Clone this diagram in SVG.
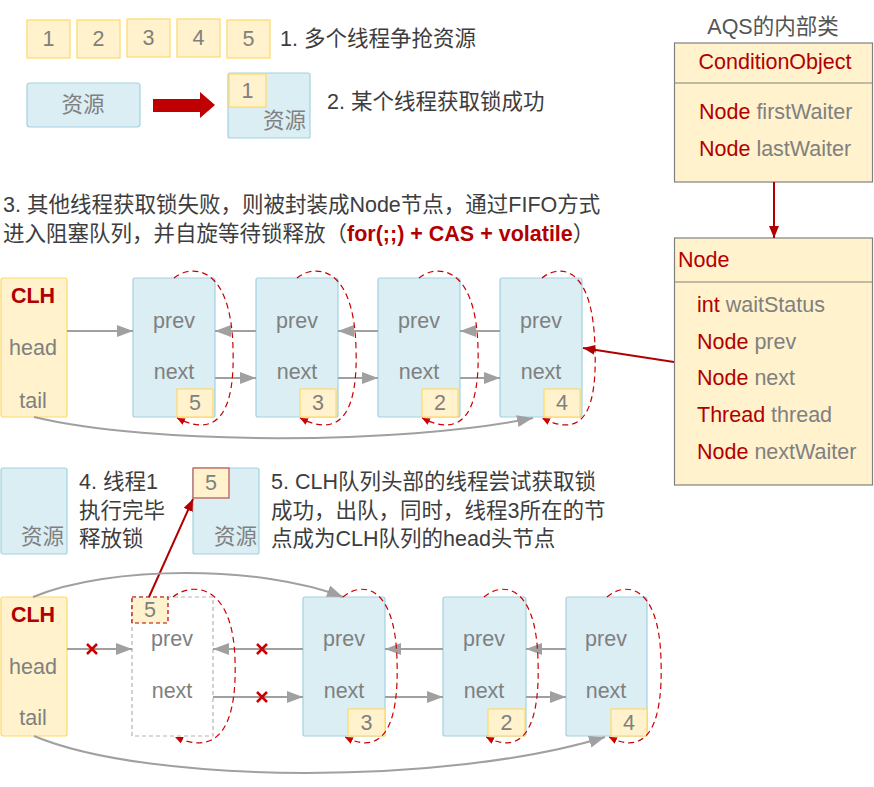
<svg xmlns="http://www.w3.org/2000/svg" width="874" height="787" viewBox="0 0 874 787">
<defs>
<style>
text{font-family:'Liberation Sans','Noto Sans CJK SC',sans-serif;font-size:21.5px;dominant-baseline:central}
.p{fill:#3d3d3d}
.g{fill:#808080}
.r{fill:#B20000}
.b{font-weight:bold}
.m{text-anchor:middle}
.e{text-anchor:end}
.y{fill:#FFF2CC;stroke:#FFD966;stroke-width:1.2}
.n{fill:#DAEEF4;stroke:#A3D2DF;stroke-width:1.2}
.aqs{fill:#FFF2CC;stroke:#808080;stroke-width:1.2}
.gl{fill:none;stroke:#A0A0A0;stroke-width:2}
.rl{fill:none;stroke:#B20000;stroke-width:2}
.lp{fill:none;stroke:#CC0000;stroke-width:1.2;stroke-dasharray:6 4}
.x{stroke:#CC0000;stroke-width:2.5;fill:none}
</style>
<marker id="ag" markerUnits="userSpaceOnUse" markerWidth="18" markerHeight="14" refX="16" refY="6" orient="auto"><path d="M0,0 L16,6 L0,12 z" fill="#A0A0A0"/></marker>
<marker id="ar" markerUnits="userSpaceOnUse" markerWidth="14" markerHeight="12" refX="12" refY="5" orient="auto"><path d="M0,0 L12,5 L0,10 z" fill="#B20000"/></marker>
<marker id="al" markerUnits="userSpaceOnUse" markerWidth="10" markerHeight="9" refX="8" refY="3.5" orient="auto"><path d="M0,0 L8,3.5 L0,7 z" fill="#CC0000"/></marker>
</defs>
<rect width="874" height="787" fill="#fff"/>

<!-- step 1 -->
<g id="t1">
<rect class="y" x="27" y="20" width="43" height="38"/><text class="g m" x="48.5" y="39">1</text>
<rect class="y" x="77" y="20" width="43" height="38"/><text class="g m" x="98.5" y="39">2</text>
<rect class="y" x="127" y="19" width="43" height="38"/><text class="g m" x="148.5" y="38">3</text>
<rect class="y" x="177" y="19" width="43" height="38"/><text class="g m" x="198.5" y="38">4</text>
<rect class="y" x="227" y="20" width="43" height="38"/><text class="g m" x="248.5" y="39">5</text>
<text class="p" x="280" y="39">1. 多个线程争抢资源</text>
</g>

<!-- step 2 -->
<g id="res1">
<rect class="n" x="27" y="83" width="113" height="44" rx="3"/>
<text class="g m" x="83" y="105">资源</text>
</g>
<polygon points="153,99 200,99 200,92 215,105 200,118 200,112 153,112" fill="#C00000"/>
<g id="res2">
<rect class="n" x="228" y="73" width="82" height="65" rx="2"/>
<rect class="y" x="229" y="74" width="37" height="33"/>
<text class="g m" x="247.5" y="90.5">1</text>
<text class="g e" x="306" y="121">资源</text>
</g>
<text class="p" x="327" y="102">2. 某个线程获取锁成功</text>

<!-- AQS -->
<text class="p m" x="773" y="27" style="fill:#555">AQS的内部类</text>
<g id="cond">
<rect class="aqs" x="674.5" y="43" width="198" height="139"/>
<line x1="674.5" y1="83" x2="872.5" y2="83" stroke="#808080" stroke-width="1.2"/>
<text class="r m" x="775" y="62">ConditionObject</text>
<text x="699" y="112"><tspan class="r">Node</tspan><tspan class="g"> firstWaiter</tspan></text>
<text x="699" y="149"><tspan class="r">Node</tspan><tspan class="g"> lastWaiter</tspan></text>
</g>
<g id="nodecls">
<rect class="aqs" x="674.5" y="238" width="198" height="247"/>
<line x1="674.5" y1="282" x2="872.5" y2="282" stroke="#808080" stroke-width="1.2"/>
<text class="r" x="678" y="260">Node</text>
<text x="697" y="305"><tspan class="r">int</tspan><tspan class="g"> waitStatus</tspan></text>
<text x="697" y="342"><tspan class="r">Node</tspan><tspan class="g"> prev</tspan></text>
<text x="697" y="378"><tspan class="r">Node</tspan><tspan class="g"> next</tspan></text>
<text x="697" y="415"><tspan class="r">Thread</tspan><tspan class="g"> thread</tspan></text>
<text x="697" y="452"><tspan class="r">Node</tspan><tspan class="g"> nextWaiter</tspan></text>
</g>

<!-- step 3 text -->
<text class="p" x="3" y="205">3. 其他线程获取锁失败，则被封装成Node节点，通过FIFO方式</text>
<text class="p" x="3" y="234">进入阻塞队列，并自旋等待锁释放（<tspan class="r b">for(;;) + CAS + volatile</tspan>）</text>

<!-- row 1 -->
<g id="clh1">
<rect class="y" x="1" y="278" width="66" height="139" rx="2"/>
<text class="r b m" x="33" y="296">CLH</text>
<text class="g m" x="33" y="348">head</text>
<text class="g m" x="33" y="401">tail</text>
</g>
<g id="r1n5">
<rect class="n" x="133" y="278" width="82" height="139" rx="2"/>
<text class="g m" x="174" y="321">prev</text><text class="g m" x="174" y="372">next</text>
<rect class="y" x="177" y="389" width="36" height="28"/><text class="g m" x="195" y="403">5</text>
</g>
<g id="r1n3">
<rect class="n" x="256" y="278" width="82" height="139" rx="2"/>
<text class="g m" x="297" y="321">prev</text><text class="g m" x="297" y="372">next</text>
<rect class="y" x="300" y="389" width="36" height="28"/><text class="g m" x="318" y="403">3</text>
</g>
<g id="r1n2">
<rect class="n" x="378" y="278" width="82" height="139" rx="2"/>
<text class="g m" x="419" y="321">prev</text><text class="g m" x="419" y="372">next</text>
<rect class="y" x="422" y="389" width="36" height="28"/><text class="g m" x="440" y="403">2</text>
</g>
<g id="r1n4">
<rect class="n" x="500" y="278" width="82" height="139" rx="2"/>
<text class="g m" x="541" y="321">prev</text><text class="g m" x="541" y="372">next</text>
<rect class="y" x="544" y="389" width="36" height="28"/><text class="g m" x="562" y="403">4</text>
</g>

<!-- step 4 / 5 -->
<g id="res4">
<rect class="n" x="1" y="468" width="66" height="86" rx="2"/>
<text class="g e" x="64" y="537">资源</text>
</g>
<text class="p" x="79" y="482">4. 线程1</text>
<text class="p" x="79" y="511">执行完毕</text>
<text class="p" x="79" y="539">释放锁</text>
<g id="res5">
<rect class="n" x="193" y="468" width="66" height="86" rx="2"/>
<rect x="193" y="468" width="36" height="30" fill="#FFF2CC" stroke="#B85450" stroke-width="1.2"/>
<text class="g m" x="211" y="483">5</text>
<text class="g e" x="257" y="537">资源</text>
</g>
<text class="p" x="271" y="482">5. CLH队列头部的线程尝试获取锁</text>
<text class="p" x="271" y="511">成功，出队，同时，线程3所在的节</text>
<text class="p" x="271" y="539">点成为CLH队列的head头节点</text>

<!-- row 2 -->
<g id="clh2">
<rect class="y" x="1" y="597" width="66" height="139" rx="2"/>
<text class="r b m" x="33" y="615">CLH</text>
<text class="g m" x="33" y="667">head</text>
<text class="g m" x="33" y="718">tail</text>
</g>
<g id="r2n5">
<rect x="132" y="597" width="81" height="139" fill="#fff" stroke="#B3B3B3" stroke-width="1.2" stroke-dasharray="4 3"/>
<rect x="132" y="597" width="36" height="26" fill="#FFF2CC" stroke="#B20000" stroke-width="1.2" stroke-dasharray="4 3"/>
<text class="g m" x="150" y="610">5</text>
<text class="g m" x="172" y="639">prev</text><text class="g m" x="172" y="691">next</text>
</g>
<g id="r2n3">
<rect class="n" x="303" y="597" width="82" height="139" rx="2"/>
<text class="g m" x="344" y="639">prev</text><text class="g m" x="344" y="691">next</text>
<rect class="y" x="348" y="709" width="37" height="27"/><text class="g m" x="366.5" y="722.5">3</text>
</g>
<g id="r2n2">
<rect class="n" x="443" y="597" width="83" height="139" rx="2"/>
<text class="g m" x="484" y="639">prev</text><text class="g m" x="484" y="691">next</text>
<rect class="y" x="488" y="709" width="37" height="27"/><text class="g m" x="506.5" y="722.5">2</text>
</g>
<g id="r2n4">
<rect class="n" x="566" y="597" width="81" height="139" rx="2"/>
<text class="g m" x="606" y="639">prev</text><text class="g m" x="606" y="691">next</text>
<rect class="y" x="611" y="709" width="36" height="27"/><text class="g m" x="629" y="722.5">4</text>
</g>

<!-- connectors -->
<g id="connectors">
<!-- row 1 -->
<path class="gl" d="M67,331 L133,331" marker-end="url(#ag)"/>
<path class="gl" d="M256,331 L215,331" marker-end="url(#ag)"/>
<path class="gl" d="M215,378 L256,378" marker-end="url(#ag)"/>
<path class="gl" d="M378,331 L338,331" marker-end="url(#ag)"/>
<path class="gl" d="M338,378 L378,378" marker-end="url(#ag)"/>
<path class="gl" d="M500,331 L460,331" marker-end="url(#ag)"/>
<path class="gl" d="M460,378 L500,378" marker-end="url(#ag)"/>
<path class="gl" d="M34,417 C150,445 400,445 533,418" marker-end="url(#ag)"/>
<!-- loops row 1 -->
<path class="lp" d="M174,278 C191,264 231,264 233,348 C235,408 220,440 177,418" marker-end="url(#al)"/>
<path class="lp" d="M297,278 C314,264 354,264 356,348 C358,408 343,440 300,418" marker-end="url(#al)"/>
<path class="lp" d="M419,278 C436,264 476,264 478,348 C480,408 465,440 422,418" marker-end="url(#al)"/>
<path class="lp" d="M542,278 C559,264 593,264 595,348 C597,408 585,440 542,418" marker-end="url(#al)"/>
<!-- red -->
<path class="rl" d="M774,182 L774,238" marker-end="url(#ar)"/>
<path class="rl" d="M674,362 L583,348" marker-end="url(#ar)"/>
<path class="rl" d="M149,597 L193,499" marker-end="url(#ar)"/>
<!-- row 2 -->
<path class="gl" d="M67,649 L132,649" marker-end="url(#ag)"/>
<path class="gl" d="M303,649 L213,649" marker-end="url(#ag)"/>
<path class="gl" d="M213,697 L303,697" marker-end="url(#ag)"/>
<path class="gl" d="M443,649 L385,649" marker-end="url(#ag)"/>
<path class="gl" d="M385,697 L443,697" marker-end="url(#ag)"/>
<path class="gl" d="M566,649 L526,649" marker-end="url(#ag)"/>
<path class="gl" d="M526,697 L566,697" marker-end="url(#ag)"/>
<path class="gl" d="M33,597 C110,565 260,565 343,597" marker-end="url(#ag)"/>
<path class="gl" d="M34,736 C150,785 450,785 605,737" marker-end="url(#ag)"/>
<!-- crosses -->
<path class="x" d="M87,644 L97,654 M97,644 L87,654"/>
<path class="x" d="M257,644 L267,654 M267,644 L257,654"/>
<path class="x" d="M257,692 L267,702 M267,692 L257,702"/>
<!-- loops row 2 -->
<path class="lp" d="M173,597 C191,582 233,582 235,660 C237,720 222,758 175,737" marker-end="url(#al)"/>
<path class="lp" d="M343,597 C360,582 395,582 397,660 C399,720 386,758 345,737" marker-end="url(#al)"/>
<path class="lp" d="M484,597 C501,582 536,582 538,660 C540,720 527,758 486,737" marker-end="url(#al)"/>
<path class="lp" d="M607,597 C624,582 659,582 661,660 C663,720 650,758 609,737" marker-end="url(#al)"/>
</g>
</svg>
